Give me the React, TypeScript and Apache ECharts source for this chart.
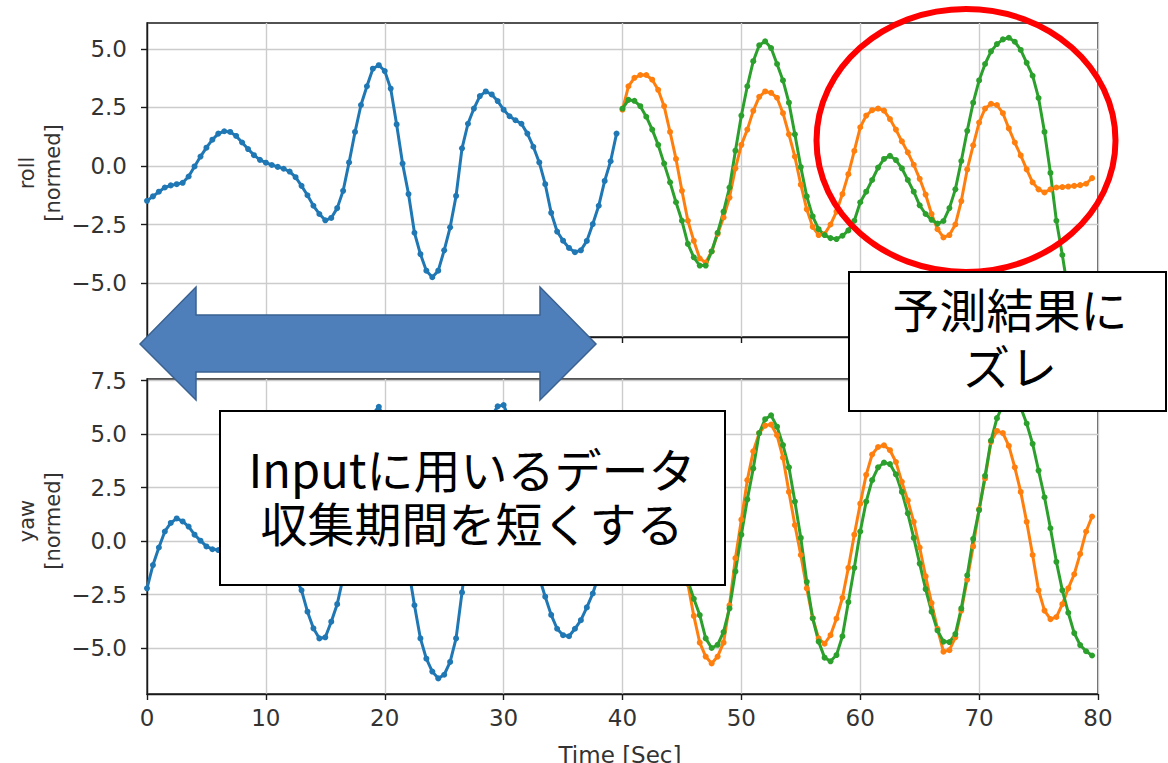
import React, { useEffect, useRef } from "react";
import * as echarts from "echarts";

// sampling step (seconds) and start times of the series
const STEP = 0.5;
const OBSERVED_START = 0;
const PREDICTED_START = 40;

const X_MIN = 0;
const X_MAX = 80;
const X_INTERVAL = 10;

const ROLL_RANGE = [-7.3, 6.1];
const YAW_RANGE = [-7.15, 7.58];
const ROLL_TICKS = [-5, -2.5, 0, 2.5, 5];
const YAW_TICKS = [-5, -2.5, 0, 2.5, 5, 7.5];

const ROLL_LABEL = "roll\n[normed]";
const YAW_LABEL = "yaw\n[normed]";
const TIME_LABEL = "Time [Sec]";
const NOTE_SHIFT = "予測結果に\nズレ";
const NOTE_INPUT = "Inputに用いるデータ\n収集期間を短くする";

// roll: observed (blue), 0 .. 39.5 s
const rollObserved = [
  -1.49, -1.3, -1.1, -0.92, -0.83, -0.78, -0.72, -0.45, -0.02, 0.4,
  0.78, 1.12, 1.38, 1.48, 1.45, 1.28, 1.0, 0.72, 0.46, 0.26,
  0.14, 0.04, -0.04, -0.12, -0.24, -0.48, -0.85, -1.25, -1.7, -2.05,
  -2.32, -2.22, -1.8, -1.06, 0.15, 1.45, 2.6, 3.4, 4.15, 4.3,
  4.05, 3.3, 1.77, 0.1, -1.2, -2.85, -3.76, -4.47, -4.75, -4.47,
  -3.6, -2.62, -1.28, 0.75, 1.8, 2.45, 2.98, 3.18, 3.05, 2.77,
  2.4, 2.12, 1.95, 1.8, 1.38, 0.82, 0.15, -0.78, -2.0, -2.8,
  -3.19, -3.5, -3.68, -3.6, -3.2, -2.48, -1.7, -0.64, 0.2, 1.38,
];
// roll: prediction A (orange), 40 .. 79.5 s
const rollPredA = [
  2.4, 3.4, 3.76, 3.88, 3.88, 3.68, 3.25, 2.55, 1.45, 0.3,
  -1.06, -2.34, -3.2, -3.95, -4.12, -3.65, -2.9, -2.2, -1.35, -0.1,
  0.9, 1.55, 2.35, 2.95, 3.18, 3.12, 2.91, 2.25, 1.35, 0.4,
  -0.8, -1.85, -2.6, -2.95, -2.91, -2.5, -1.95, -1.2, -0.35, 0.64,
  1.65, 2.15, 2.38, 2.45, 2.36, 2.0, 1.55, 1.05, 0.58, 0.05,
  -0.55, -1.22, -2.05, -2.7, -3.05, -2.95, -2.5, -1.5, -0.15, 0.88,
  1.85, 2.45, 2.65, 2.6, 2.25, 1.6, 1.0, 0.45, -0.15, -0.7,
  -1.0, -1.13, -1.0, -0.92, -0.9, -0.88, -0.85, -0.82, -0.76, -0.52,
];
// roll: prediction B (green), 40 .. 79.5 s
const rollPredB = [
  2.45, 2.82, 2.78, 2.55, 2.1, 1.55, 0.9, 0.1, -0.7, -1.55,
  -2.34, -3.33, -3.9, -4.25, -4.25, -3.65, -2.85, -1.95, -0.92, 0.65,
  2.15, 3.4, 4.47, 5.15, 5.32, 5.03, 4.35, 3.65, 2.7, 1.35,
  -0.05, -1.3, -2.15, -2.7, -2.95, -3.08, -3.12, -2.98, -2.75, -2.34,
  -1.55, -1.1, -0.6, -0.07, 0.3, 0.43, 0.25, -0.1, -0.6, -1.1,
  -1.68, -2.05, -2.3, -2.46, -2.35, -1.8, -1.0, 0.21, 1.5, 2.7,
  3.65, 4.35, 4.89, 5.2, 5.4, 5.47, 5.3, 4.95, 4.4, 3.85,
  2.9, 1.45, -0.3, -2.34, -3.8, -5.4, -6.9, -8.3, -9.6, -10.8,
];

// yaw: observed (blue), 0 .. 39.5 s
const yawObserved = [
  -2.21, -1.12, -0.3, 0.45, 0.85, 1.06, 0.92, 0.68, 0.3, 0.02,
  -0.25, -0.38, -0.42, -0.3, -0.05, 0.25, 0.5, 0.62, 0.55, 0.3,
  -0.05, -0.4, -0.75, -1.05, -1.35, -1.7, -2.3, -3.3, -4.08, -4.55,
  -4.5, -3.77, -2.95, -1.7, 0.0, 1.9, 3.6, 5.0, 5.95, 6.28,
  5.7, 4.4, 2.6, 0.6, -1.3, -3.0, -4.55, -5.5, -6.1, -6.42,
  -6.25, -5.65, -4.55, -2.4, -0.2, 1.9, 3.7, 5.0, 5.85, 6.3,
  6.36, 5.7, 4.5, 2.9, 1.2, -0.4, -1.7, -2.6, -3.45, -4.1,
  -4.4, -4.45, -4.1, -3.7, -3.1, -2.45, -1.6, -0.6, 0.5, 1.5,
];
// yaw: prediction A (orange), 40 .. 79.5 s
const yawPredA = [
  1.8, 2.6, 3.1, 3.3, 3.2, 2.8, 2.1, 1.5, 0.6, -0.4,
  -1.2, -2.0, -3.5, -4.75, -5.4, -5.72, -5.4, -4.75, -3.0, -0.8,
  1.0, 2.85, 4.2, 5.05, 5.4, 5.45, 4.95, 3.9, 2.3, 0.75,
  -0.65, -2.21, -3.6, -4.55, -4.8, -4.4, -3.62, -2.65, -1.25, 0.3,
  1.75, 3.1, 4.05, 4.4, 4.48, 4.25, 3.7, 2.77, 1.9, 0.9,
  -0.3, -1.65, -2.9, -4.1, -5.17, -5.1, -4.5, -3.25, -1.8, -0.25,
  1.5, 2.93, 4.64, 5.15, 5.05, 4.45, 3.45, 2.3, 0.9, -0.65,
  -2.3, -3.25, -3.65, -3.55, -2.95, -2.21, -1.55, -0.6, 0.45, 1.15,
];
// yaw: prediction B (green), 40 .. 79.5 s
const yawPredB = [
  1.5, 2.4, 3.0, 3.3, 3.25, 2.85, 2.2, 1.4, 0.5, -0.45,
  -1.25, -1.85, -2.7, -3.46, -4.55, -5.0, -4.85, -4.25, -3.15, -1.42,
  0.3, 1.95, 3.4, 5.05, 5.7, 5.88, 5.35, 4.49, 3.45, 1.85,
  0.15, -1.9, -3.61, -4.7, -5.45, -5.62, -5.33, -4.45, -2.85, -1.25,
  0.45, 1.85, 2.85, 3.45, 3.67, 3.6, 3.12, 2.3, 1.3, 0.15,
  -1.05, -2.25, -3.3, -4.18, -4.7, -4.72, -4.35, -3.15, -1.6, 0.1,
  1.45, 3.05, 4.7, 5.75, 6.35, 6.6, 6.55, 6.25, 5.5, 4.55,
  3.3, 2.05, 0.6, -0.97, -2.3, -3.35, -4.3, -4.86, -5.15, -5.35,
];

const COLORS = { observed: "#1f77b4", predA: "#ff7f0e", predB: "#2ca02c" };

function toPairs(start: number, values: number[]) {
  return values.map((v, i) => [start + i * STEP, v]);
}

const fmt = (v: number) => (v < 0 ? "\u2212" : "") + Math.abs(v).toFixed(1);

function buildOption() {
  const tickFont = { fontFamily: "DejaVu Sans", fontSize: 23, color: "#333333" };
  const frame = "#1a1a1a";
  const gridLine = { show: true, lineStyle: { color: "#cccccc", width: 1.4 } };
  const grids = [
    { left: 147, top: 23, width: 951, height: 314 },
    { left: 147, top: 379, width: 951, height: 315 },
  ].map((g) => ({ ...g, show: true, borderColor: frame, borderWidth: 1.4, backgroundColor: "#fff" }));

  const xAxis = [0, 1].map((i) => ({
    type: "value",
    gridIndex: i,
    min: X_MIN,
    max: X_MAX,
    interval: X_INTERVAL,
    axisLine: { show: true, onZero: false, lineStyle: { color: frame, width: 1.4 } },
    axisTick: { show: true, length: 6, lineStyle: { color: frame, width: 1.4 } },
    axisLabel: { show: i === 1, margin: 12, ...tickFont },
    splitLine: gridLine,
  }));

  const mkY = (i: number, range: number[], ticks: number[]) => ({
    type: "value",
    gridIndex: i,
    min: range[0],
    max: range[1],
    axisLine: { show: true, onZero: false, lineStyle: { color: frame, width: 1.4 } },
    axisTick: { show: true, length: 6, customValues: ticks, lineStyle: { color: frame, width: 1.4 } },
    axisLabel: { show: true, customValues: ticks, formatter: fmt, margin: 20, ...tickFont },
    splitLine: gridLine,
  });

  const mkSeries = (data: number[][], color: string, i: number) => ({
    type: "line",
    xAxisIndex: i,
    yAxisIndex: i,
    data,
    clip: true,
    symbol: "circle",
    symbolSize: 6,
    showSymbol: true,
    itemStyle: { color },
    lineStyle: { color, width: 3 },
    z: 3,
  });

  const axisTitle = { fontFamily: "DejaVu Sans", fontSize: 21, fill: "#333333" };
  const cjk = '"Noto Sans CJK JP", "Noto Sans CJK SC", sans-serif';

  const graphic = [
    {
      type: "text", x: 40, y: 173, rotation: Math.PI / 2, z: 50,
      style: { text: ROLL_LABEL, ...axisTitle, lineHeight: 26, align: "center", verticalAlign: "middle", textAlign: "center", textVerticalAlign: "middle" },
    },
    {
      type: "text", x: 40, y: 521, rotation: Math.PI / 2, z: 50,
      style: { text: YAW_LABEL, ...axisTitle, lineHeight: 26, align: "center", verticalAlign: "middle", textAlign: "center", textVerticalAlign: "middle" },
    },
    {
      type: "text", x: 620, y: 755, z: 50,
      style: { text: TIME_LABEL, ...axisTitle, fontSize: 23, align: "center", verticalAlign: "middle", textAlign: "center", textVerticalAlign: "middle" },
    },
    {
      type: "polygon", z: 100,
      shape: {
        points: [
          [140, 344], [196, 287], [196, 315], [540, 315], [540, 287],
          [596, 344], [540, 400], [540, 372], [196, 372], [196, 400],
        ],
      },
      style: { fill: "#4f7fbb", stroke: "#3a6190", lineWidth: 1.5 },
    },
    {
      type: "ellipse", z: 100,
      shape: { cx: 966, cy: 140.5, rx: 149.5, ry: 131.5 },
      style: { fill: "none", stroke: "#ff0000", lineWidth: 6 },
    },
    {
      type: "rect", z: 100,
      shape: { x: 849, y: 272, width: 317, height: 139 },
      style: { fill: "#ffffff", stroke: "#000000", lineWidth: 2 },
    },
    {
      type: "text", x: 1010, y: 336, z: 101,
      style: { text: NOTE_SHIFT, fontFamily: cjk, fontSize: 47, lineHeight: 57, fill: "#000", align: "center", verticalAlign: "middle", textAlign: "center", textVerticalAlign: "middle" },
    },
    {
      type: "rect", z: 100,
      shape: { x: 220, y: 411, width: 505, height: 174 },
      style: { fill: "#ffffff", stroke: "#000000", lineWidth: 2 },
    },
    {
      type: "text", x: 472, y: 494, z: 101,
      style: { text: NOTE_INPUT, fontFamily: cjk, fontSize: 47, lineHeight: 54, fill: "#000", align: "center", verticalAlign: "middle", textAlign: "center", textVerticalAlign: "middle" },
    },
  ];

  return {
    animation: false,
    backgroundColor: "#ffffff",
    grid: grids,
    xAxis,
    yAxis: [mkY(0, ROLL_RANGE, ROLL_TICKS), mkY(1, YAW_RANGE, YAW_TICKS)],
    series: [
      mkSeries(toPairs(OBSERVED_START, rollObserved), COLORS.observed, 0),
      mkSeries(toPairs(PREDICTED_START, rollPredA), COLORS.predA, 0),
      mkSeries(toPairs(PREDICTED_START, rollPredB), COLORS.predB, 0),
      mkSeries(toPairs(OBSERVED_START, yawObserved), COLORS.observed, 1),
      mkSeries(toPairs(PREDICTED_START, yawPredA), COLORS.predA, 1),
      mkSeries(toPairs(PREDICTED_START, yawPredB), COLORS.predB, 1),
    ],
    graphic: { elements: graphic },
  };
}

export default function App() {
  const ref = useRef<HTMLDivElement>(null);
  useEffect(() => {
    document.body.style.margin = "0";
    if (!ref.current) return;
    const chart = echarts.init(ref.current, null, { renderer: "svg" });
    chart.setOption(buildOption() as any);
    return () => chart.dispose();
  }, []);
  return <div ref={ref} style={{ width: 1168, height: 763, background: "#fff" }} />;
}
